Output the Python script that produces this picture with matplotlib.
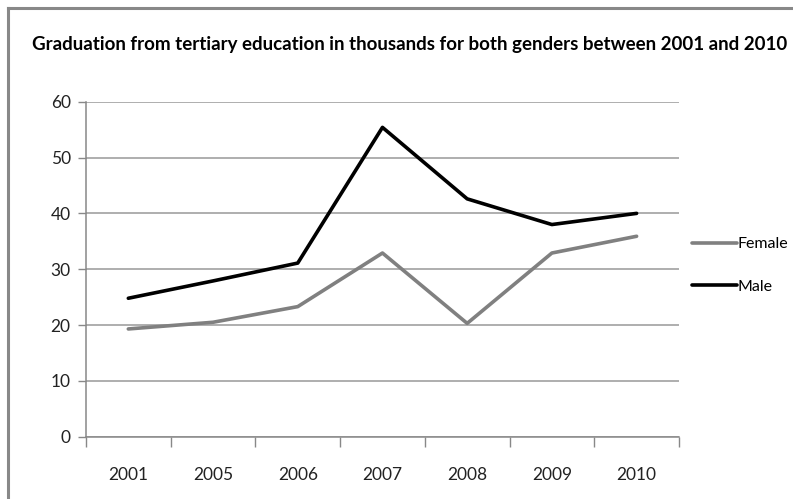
import matplotlib.pyplot as plt
from matplotlib.lines import Line2D

plt.rcParams['font.family'] = ['Lato', 'DejaVu Sans']

years = ['2001', '2005', '2006', '2007', '2008', '2009', '2010']
female = [19.3, 20.5, 23.3, 32.9, 20.3, 32.9, 35.9]
male = [24.8, 27.9, 31.1, 55.4, 42.6, 38.0, 40.0]

fig = plt.figure(figsize=(7.93, 4.99), dpi=100)
ax = fig.add_axes([0.1084, 0.1248, 0.7478, 0.6714])

x = range(len(years))
ax.plot(x, female, color='#808080', linewidth=2.6, label='Female', solid_capstyle='round')
ax.plot(x, male, color='black', linewidth=2.6, label='Male', solid_capstyle='round')

ax.set_xlim(-0.5, len(years) - 0.5)
ax.set_ylim(0, 60)
ax.set_yticks(range(0, 61, 10))
ax.yaxis.grid(True, color='#999999', linewidth=1.1)
ax.set_axisbelow(True)

# Category labels sit between the boundary tick marks
ax.set_xticks([i - 0.5 for i in range(len(years) + 1)])
ax.set_xticklabels([])
ax.set_xticks(list(x), minor=True)
ax.set_xticklabels(years, minor=True)
ax.tick_params(axis='x', which='major', length=7, width=1, color='#888888', direction='out')
ax.tick_params(axis='x', which='minor', length=0, pad=22, labelsize=12.5, labelcolor='#222222')
ax.tick_params(axis='y', length=6, width=1, color='#888888', pad=5, labelsize=12.5, labelcolor='#222222')

for side in ['top', 'right']:
    ax.spines[side].set_visible(False)
for side in ['left', 'bottom']:
    ax.spines[side].set_color('#888888')
    ax.spines[side].set_linewidth(1.1)

title = fig.text(0.517, 0.91, 'Graduation from tertiary education in thousands for both genders between 2001 and 2010',
                 ha='center', va='center', fontsize=13, fontweight='bold')

# shrink the title so it spans about 760 px
renderer = fig.canvas.get_renderer()
w = title.get_window_extent(renderer).width
title.set_fontsize(13 * 758 / w)

fig.legend(*ax.get_legend_handles_labels(), loc='center left',
           bbox_to_anchor=(0.873, 0.468), bbox_transform=fig.transFigure,
           frameon=False, fontsize=11.5, borderpad=0, borderaxespad=0,
           handlelength=2.8, handletextpad=0.05, labelspacing=1.8)

# Chart frame edges on the top and left
fig.add_artist(Line2D([0.0101, 0.0101], [0, 0.984], color='#888888', linewidth=2.2))
fig.add_artist(Line2D([0.0101, 1.0], [0.984, 0.984], color='#888888', linewidth=2.2))

fig.savefig('out.png', dpi=100)
